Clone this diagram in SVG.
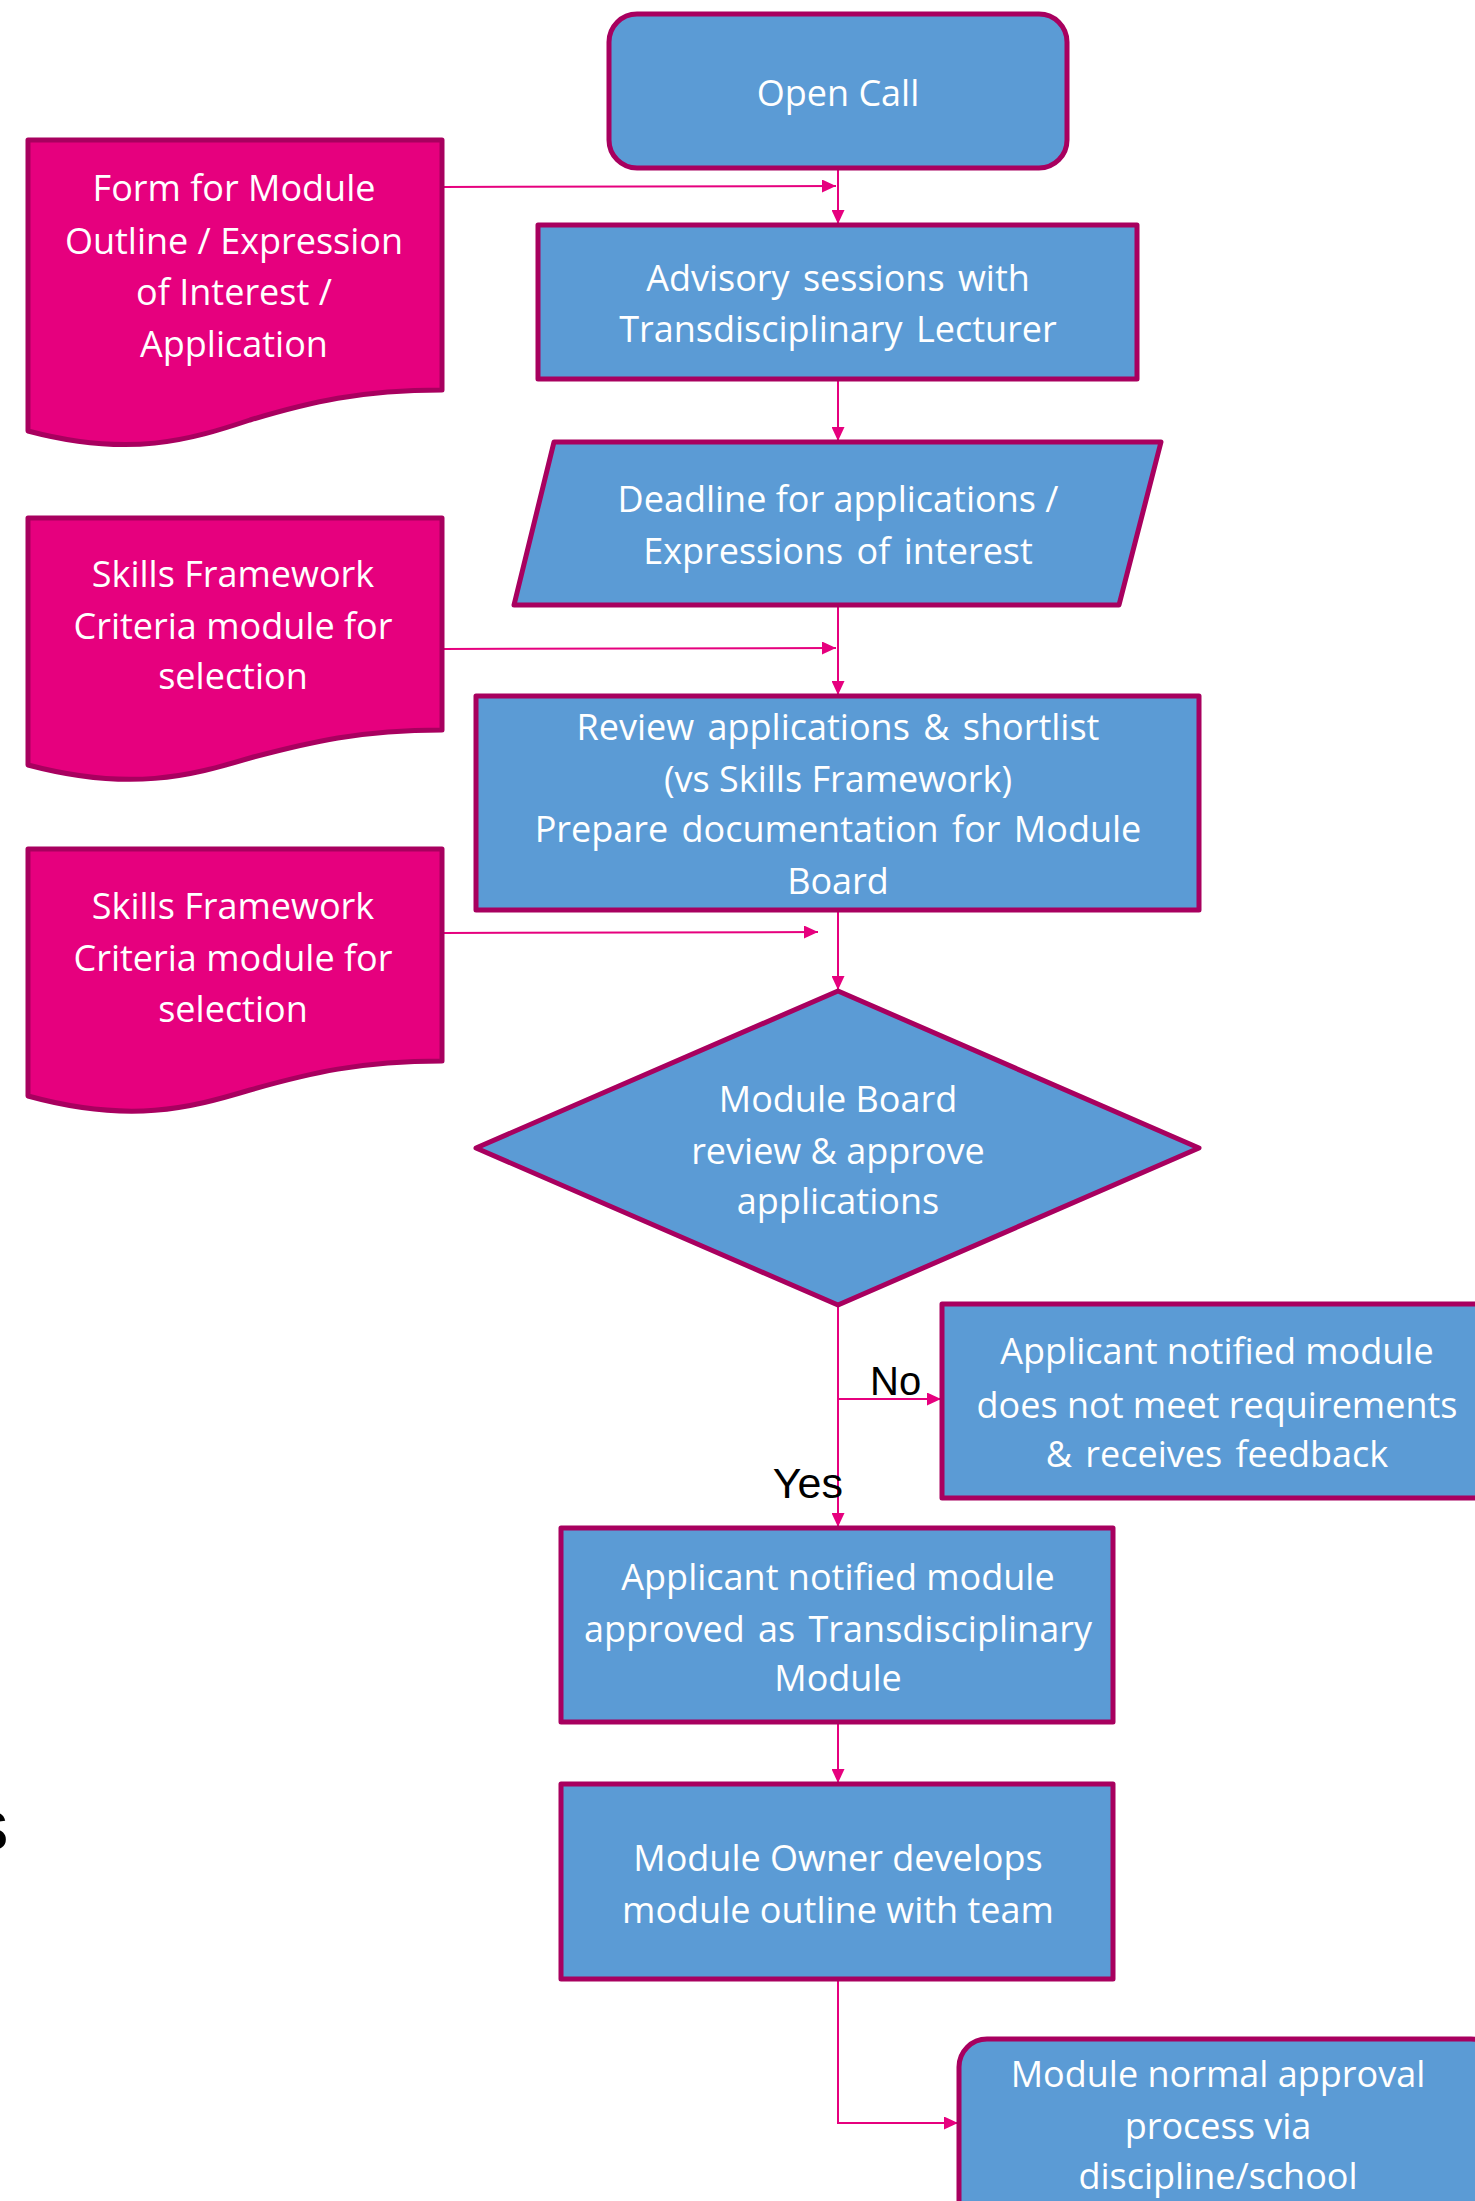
<svg xmlns="http://www.w3.org/2000/svg" width="1475" height="2201" viewBox="0 0 1475 2201">
<style>
.n{fill:#5B9BD5;stroke:#A8005F;stroke-width:5;stroke-linejoin:round}
.d{fill:#E6007E;stroke:#A8005F;stroke-width:5;stroke-linejoin:round}
.t{font-family:"Open Sans","Noto Sans",sans-serif;font-size:36px;fill:#FFFFFF;text-anchor:middle;dominant-baseline:central}
.c{fill:none;stroke:#E6007E;stroke-width:2}
.l{font-family:"Liberation Sans",Arial,sans-serif;font-size:40px;fill:#000000}
</style>
<defs>
<marker id="a" markerUnits="userSpaceOnUse" markerWidth="15" markerHeight="13" refX="14" refY="6.5" orient="auto">
<path d="M0,0 L14,6.5 L0,13 Z" fill="#E6007E"/>
</marker>
</defs>
<rect width="1475" height="2201" fill="#FFFFFF"/>
<g id="connectors">
<path class="c" d="M838,168 V224" marker-end="url(#a)"/>
<path class="c" d="M442,187 L836,186" marker-end="url(#a)"/>
<path class="c" d="M838,379 V441" marker-end="url(#a)"/>
<path class="c" d="M838,605 V695" marker-end="url(#a)"/>
<path class="c" d="M442,649 L836,648" marker-end="url(#a)"/>
<path class="c" d="M838,910 V990" marker-end="url(#a)"/>
<path class="c" d="M442,933 L818,932" marker-end="url(#a)"/>
<path class="c" d="M838,1305 V1527" marker-end="url(#a)"/>
<path class="c" d="M838,1399 H941" marker-end="url(#a)"/>
<path class="c" d="M838,1722 V1783" marker-end="url(#a)"/>
<path class="c" d="M838,1979 V2123 H958" marker-end="url(#a)"/>
</g>
<g id="open-call">
<rect class="n" x="609" y="14" width="458" height="154" rx="28"/>
<text class="t" x="838" y="92">Open Call</text>
</g>
<g id="form-doc">
<path class="d" d="M28,140 H442 V390 C360,390 310,402 250,420 C190,440 130,458 28,431 Z"/>
<text class="t" x="234" y="187">Form for Module</text>
<text class="t" x="234" y="240">Outline / Expression</text>
<text class="t" x="234" y="291">of Interest  /</text>
<text class="t" x="234" y="343">Application</text>
</g>
<g id="advisory">
<rect class="n" x="538" y="225" width="599" height="154"/>
<text class="t" x="838" y="277" word-spacing="4">Advisory sessions with</text>
<text class="t" x="838" y="328" word-spacing="4">Transdisciplinary Lecturer</text>
</g>
<g id="deadline">
<path class="n" d="M554,442 H1161 L1119,605 H514 Z"/>
<text class="t" x="838" y="498">Deadline for applications /</text>
<text class="t" x="838" y="550" word-spacing="4">Expressions of interest</text>
</g>
<g id="skills-doc-1">
<path class="d" d="M28,518 H442 V730 C360,730 310,742 250,758 C190,776 130,792 28,765 Z"/>
<text class="t" x="233" y="573">Skills Framework</text>
<text class="t" x="233" y="625">Criteria module for</text>
<text class="t" x="233" y="675">selection</text>
</g>
<g id="review">
<rect class="n" x="476" y="696" width="723" height="214"/>
<text class="t" x="838" y="726" word-spacing="4">Review applications &amp; shortlist</text>
<text class="t" x="838" y="778">(vs Skills Framework)</text>
<text class="t" x="838" y="828" word-spacing="4">Prepare documentation for Module</text>
<text class="t" x="838" y="880">Board</text>
</g>
<g id="skills-doc-2">
<path class="d" d="M28,849 H442 V1061 C360,1061 310,1073 250,1090 C190,1108 130,1124 28,1096 Z"/>
<text class="t" x="233" y="905">Skills Framework</text>
<text class="t" x="233" y="957">Criteria module for</text>
<text class="t" x="233" y="1008">selection</text>
</g>
<g id="module-board">
<path class="n" d="M838,991 L1199,1148 L838,1305 L476,1148 Z"/>
<text class="t" x="838" y="1098">Module Board</text>
<text class="t" x="838" y="1150">review &amp; approve</text>
<text class="t" x="838" y="1200">applications</text>
</g>
<g id="rejected">
<rect class="n" x="942" y="1304" width="540" height="194"/>
<text class="t" x="1217" y="1350">Applicant notified module</text>
<text class="t" x="1217" y="1404">does not meet requirements</text>
<text class="t" x="1217" y="1453" word-spacing="4">&amp; receives feedback</text>
</g>
<g id="approved">
<rect class="n" x="561" y="1528" width="552" height="194"/>
<text class="t" x="838" y="1576">Applicant notified module</text>
<text class="t" x="838" y="1628" word-spacing="4">approved as Transdisciplinary</text>
<text class="t" x="838" y="1677">Module</text>
</g>
<g id="owner">
<rect class="n" x="561" y="1784" width="552" height="195"/>
<text class="t" x="838" y="1857">Module Owner develops</text>
<text class="t" x="838" y="1909">module outline with team</text>
</g>
<g id="normal-approval">
<rect class="n" x="959" y="2039" width="540" height="200" rx="28"/>
<text class="t" x="1218" y="2073">Module normal approval</text>
<text class="t" x="1218" y="2125">process via</text>
<text class="t" x="1218" y="2175">discipline/school</text>
</g>
<g id="labels">
<text class="l" x="870" y="1395">No</text>
<text class="l" x="843" y="1498" text-anchor="end" style="font-size:43px">Yes</text>
<text class="l" x="-28" y="1850" style="font-size:73px">s</text>
</g>
</svg>
